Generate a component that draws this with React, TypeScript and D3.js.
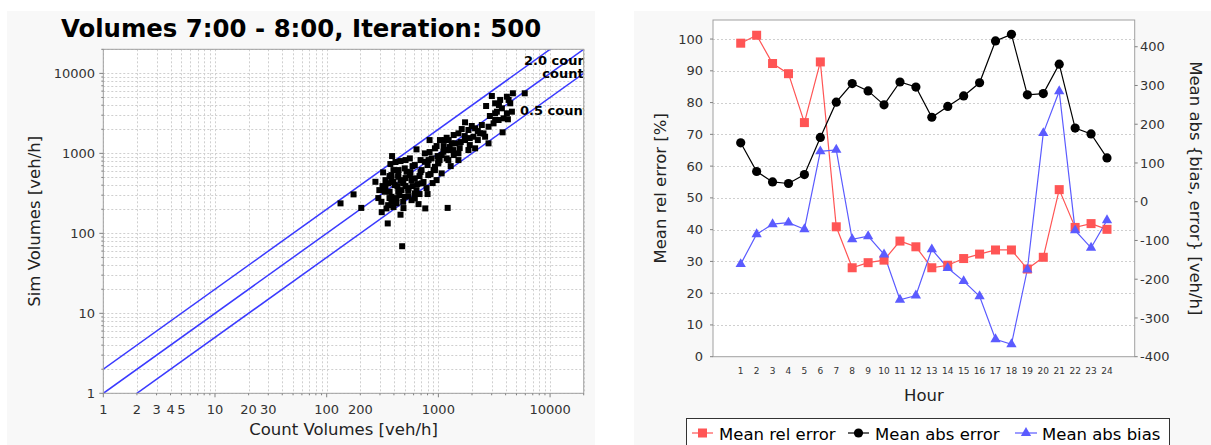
import React from 'react';
import * as d3 from 'd3';

// ---------- Left chart data: [count volume, simulated volume] (veh/h) ----------
const scatterPoints: [number, number][] = [
  [133, 237], [174, 307], [204, 208], [311, 184], [352, 133], [458, 171], [763, 205], [1211, 208],
  [474, 69], [385, 925], [273, 441], [320, 578], [637, 1122], [964, 1234], [1733, 2443], [2675, 3908],
  [3011, 5212], [4645, 5636], [5929, 5636], [3758, 1832], [4190, 2667], [2812, 1334], [1186, 1567], [1033, 1466],
  [1315, 1334], [931, 1156], [1109, 1047], [1362, 1099], [869, 865], [757, 785], [998, 785], [615, 714],
  [500, 649], [707, 618], [555, 535], [437, 509], [380, 535], [484, 441], [615, 487], [812, 535],
  [406, 401], [355, 422], [331, 331], [437, 331], [537, 347], [707, 422], [380, 286], [500, 286],
  [615, 316], [309, 248], [422, 237], [343, 205], [575, 260], [1070, 952], [931, 679], [757, 1000], [555, 865],
  [380, 487], [437, 535], [519, 589], [484, 422], [575, 463], [366, 331], [448, 301], [540, 368],
  [615, 273], [380, 248], [484, 248], [355, 225],
  [1145, 1466], [1512, 1778], [1858, 1959], [2132, 2056], [2448, 2260], [2061, 1614], [1733, 1466], [1409, 1334],
  [1228, 1099], [1512, 1000], [2132, 1156], [1858, 1099], [1512, 824], [1228, 824], [998, 750], [931, 618],
  [1070, 562], [964, 463], [3221, 3170], [4256, 4656], [3458, 2612], [3119, 2373], [2362, 1778],
  [3221, 4226], [3573, 4656], [4106, 5105], [4399, 4226], [3703, 3656], [3339, 3318], [4106, 3170], [4552, 3318],
  [3836, 2742], [3221, 2612], [2812, 2153], [2535, 1778], [2620, 1614],
  [396, 618], [458, 463], [508, 390], [562, 583], [650, 413], [678, 520], [365, 276], [430, 390],
  [587, 390], [800, 714], [851, 551], [1186, 865], [1262, 1199], [1585, 1384], [834, 1038], [692, 824],
  [413, 779], [336, 463], [296, 347], [290, 276], [396, 213], [678, 310], [784, 368], [888, 425],
  [1371, 1694], [1910, 1552], [2254, 1901], [1618, 2014], [1289, 693], [800, 310], [984, 925], [458, 801], [487, 207],
  [336, 390], [365, 520], [396, 438], [440, 618], [468, 347], [508, 491], [540, 292], [587, 693],
  [637, 347], [692, 583], [736, 438], [817, 824], [906, 618], [1026, 824], [1114, 1234], [1236, 1466],
  [1371, 952], [1552, 1164], [1722, 1644], [1910, 1270], [1990, 2198], [2254, 1466], [372, 735], [316, 390],
  [422, 276], [664, 232], [508, 824], [834, 1466], [2891, 2931], [3483, 4027],
];
const ratioFactors = [2, 1, 0.5];
const ratioLabels = ['2.0 count', 'count', '0.5 count'];
const xTickLabels = [1, 2, 3, 4, 5, 10, 20, 30, 100, 200, 1000, 10000];
const yTickLabels = [1, 10, 100, 1000, 10000];
const logMax = 20000;

// ---------- Right chart data ----------
const hours = ['1', '2', '3', '4', '5', '6', '7', '8', '9', '10', '11', '12', '13', '14', '15', '16', '17', '18', '19', '20', '21', '22', '23', '24'];
const meanRelError = [98.7, 101.2, 92.3, 89.1, 73.7, 92.8, 40.9, 28.0, 29.6, 30.4, 36.4, 34.6, 28.0, 28.8, 30.9, 32.3, 33.6, 33.6, 27.6, 31.3, 52.6, 40.7, 41.9, 40.1];
const meanAbsError = [152, 78, 51, 47, 70, 166, 257, 305, 286, 250, 309, 296, 218, 246, 273, 307, 415, 432, 276, 279, 355, 190, 175, 113];
const meanAbsBias = [-161, -84, -58, -54, -71, 130, 134, -97, -89, -136, -253, -242, -123, -171, -205, -244, -355, -368, -175, 177, 285, -74, -119, -48];
const relTicks = [0, 10, 20, 30, 40, 50, 60, 70, 80, 90, 100];
const absTicks = [-400, -300, -200, -100, 0, 100, 200, 300, 400];
const legendLabels = ['Mean rel error', 'Mean abs error', 'Mean abs bias'];

const FONT = '"DejaVu Sans", Verdana, sans-serif';
const RED = '#ff5555';
const BLUE = '#5b5bff';

export default function App() {
  const W = 1211, H = 445;

  // Left chart
  const L = { left: 103.3, right: 583.7, top: 49.3, bottom: 393.3 };
  const xL = d3.scaleLog().domain([1, logMax]).range([L.left, L.right]);
  const yL = d3.scaleLog().domain([1, logMax]).range([L.bottom, L.top]);
  const gridVals: number[] = [];
  for (let k = 0; k <= 4; k++) for (let m = 1; m <= 9; m++) {
    const v = m * Math.pow(10, k);
    if (v <= logMax) gridVals.push(v);
  }
  const isMajor = (v: number) => Math.abs(Math.log10(v) - Math.round(Math.log10(v))) < 1e-9;
  const ratioLine = d3.line<[number, number]>().x(d => xL(d[0])).y(d => yL(d[1]));
  const labelPos = [[524, 65], [542.3, 78], [520, 115]];

  // Right chart
  const R = { left: 713, right: 1134.7, top: 20, bottom: 356.7 };
  const xR = d3.scalePoint<string>().domain(hours).range([R.left, R.right]).padding(1.74);
  const yRel = d3.scaleLinear().domain([0, 106]).range([R.bottom, R.top]);
  const yAbs = d3.scaleLinear().domain([-400, 469]).range([R.bottom, R.top]);
  const lineRel = d3.line<number>().x((_, i) => xR(hours[i])!).y(d => yRel(d));
  const lineAbs = d3.line<number>().x((_, i) => xR(hours[i])!).y(d => yAbs(d));
  const tri = d3.symbol().type(d3.symbolTriangle).size(46)();
  const fmt = (v: number) => (v < 0 ? '-' + Math.abs(v) : String(v));

  const cyR = (R.top + R.bottom) / 2;
  const legY = 433;

  return (
    <svg width={W} height={H} style={{ position: 'absolute', left: 0, top: 0, background: '#fff' }} fontFamily={FONT}>
      <defs>
        <clipPath id="clipL"><rect x={L.left} y={L.top} width={L.right - L.left} height={L.bottom - L.top} /></clipPath>
        <clipPath id="clipR"><rect x={R.left} y={R.top} width={R.right - R.left} height={R.bottom - R.top} /></clipPath>
      </defs>

      {/* ================= LEFT PANEL ================= */}
      <rect x={7} y={11} width={588} height={H} fill="#f8f8f8" />
      <text x={301} y={37} textAnchor="middle" fontSize={24.4} fontWeight="bold" fill="#000">Volumes 7:00 - 8:00, Iteration: 500</text>
      <rect x={L.left} y={L.top} width={L.right - L.left} height={L.bottom - L.top} fill="#fff" />
      {/* gridlines */}
      <g stroke="#cfcfcf" strokeWidth={1} strokeDasharray="2,2">
        {gridVals.map(v => (
          <line key={'gx' + v} x1={Math.round(xL(v)) + 0.5} x2={Math.round(xL(v)) + 0.5} y1={L.top} y2={L.bottom} />
        ))}
        {gridVals.map(v => (
          <line key={'gy' + v} x1={L.left} x2={L.right} y1={Math.round(yL(v)) + 0.5} y2={Math.round(yL(v)) + 0.5} />
        ))}
      </g>
      <g clipPath="url(#clipL)">
        {ratioFactors.map(f => (
          <path key={'rl' + f} d={ratioLine([[1, f], [logMax, f * logMax]]) || ''} stroke="#3a3aff" strokeWidth={1.5} fill="none" />
        ))}
        {scatterPoints.map((p, i) => (
          <rect key={'sp' + i} x={xL(p[0]) - 3} y={yL(p[1]) - 3} width={6} height={6} fill="#000" />
        ))}
        {ratioLabels.map((t, i) => (
          <text key={'lab' + i} x={labelPos[i][0]} y={labelPos[i][1]} fontSize={13} fontWeight="bold" fill="#000">{t}</text>
        ))}
      </g>
      <rect x={L.left} y={L.top} width={L.right - L.left} height={L.bottom - L.top} fill="none" stroke="#a0a0a0" strokeWidth={1} />
      {/* ticks */}
      <g stroke="#808080" strokeWidth={1}>
        {gridVals.map(v => (
          <line key={'ty' + v} x1={L.left - (isMajor(v) ? 4 : 2)} x2={L.left} y1={yL(v)} y2={yL(v)} />
        ))}
        {gridVals.map(v => (
          <line key={'tx' + v} x1={xL(v)} x2={xL(v)} y1={L.bottom} y2={L.bottom + (isMajor(v) ? 4 : 2)} />
        ))}
      </g>
      <g fontSize={13} fill="#333">
        {yTickLabels.map(v => (
          <text key={'yl' + v} x={95} y={yL(v)} dy="0.35em" textAnchor="end">{v}</text>
        ))}
        {xTickLabels.map(v => (
          <text key={'xl' + v} x={xL(v)} y={414} textAnchor="middle">{v}</text>
        ))}
      </g>
      <text x={(L.left + L.right) / 2} y={435} textAnchor="middle" fontSize={16.5} fill="#222">Count Volumes [veh/h]</text>
      <text transform={`translate(40,${(L.top + L.bottom) / 2}) rotate(-90)`} textAnchor="middle" fontSize={16.5} fill="#222">Sim Volumes [veh/h]</text>

      {/* ================= RIGHT PANEL ================= */}
      <rect x={634} y={11} width={W - 634} height={H} fill="#f8f8f8" />
      <rect x={R.left} y={R.top} width={R.right - R.left} height={R.bottom - R.top} fill="#fff" />
      <g stroke="#cfcfcf" strokeWidth={1} strokeDasharray="2,2">
        {relTicks.filter(v => v > 0).map(v => (
          <line key={'rg' + v} x1={R.left} x2={R.right} y1={Math.round(yRel(v)) + 0.5} y2={Math.round(yRel(v)) + 0.5} />
        ))}
      </g>
      <g clipPath="url(#clipR)">
        <path d={lineRel(meanRelError) || ''} fill="none" stroke={RED} strokeWidth={1.2} />
        <path d={lineAbs(meanAbsError) || ''} fill="none" stroke="#000" strokeWidth={1.2} />
        <path d={lineAbs(meanAbsBias) || ''} fill="none" stroke={BLUE} strokeWidth={1.2} />
        {meanRelError.map((v, i) => (
          <rect key={'rs' + i} x={xR(hours[i])! - 4.5} y={yRel(v) - 4.5} width={9} height={9} fill={RED} />
        ))}
        {meanAbsError.map((v, i) => (
          <circle key={'ac' + i} cx={xR(hours[i])!} cy={yAbs(v)} r={4.6} fill="#000" />
        ))}
        {meanAbsBias.map((v, i) => (
          <path key={'bt' + i} d={tri || ''} transform={`translate(${xR(hours[i])},${yAbs(v)})`} fill={BLUE} />
        ))}
      </g>
      <rect x={R.left} y={R.top} width={R.right - R.left} height={R.bottom - R.top} fill="none" stroke="#a0a0a0" strokeWidth={1} />
      <g stroke="#808080" strokeWidth={1}>
        {relTicks.map(v => (
          <line key={'rtk' + v} x1={R.left - 3} x2={R.left} y1={yRel(v)} y2={yRel(v)} />
        ))}
        {absTicks.map(v => (
          <line key={'atk' + v} x1={R.right} x2={R.right + 3} y1={yAbs(v)} y2={yAbs(v)} />
        ))}
      </g>
      <g fontSize={13} fill="#333">
        {relTicks.map(v => (
          <text key={'rtl' + v} x={703} y={yRel(v)} dy="0.35em" textAnchor="end">{v}</text>
        ))}
        {absTicks.map(v => (
          <text key={'atl' + v} x={1140} y={yAbs(v)} dy="0.35em" textAnchor="start">{fmt(v)}</text>
        ))}
      </g>
      <g fontSize={9} fill="#333">
        {hours.map(h => (
          <text key={'h' + h} x={xR(h)!} y={374} textAnchor="middle">{h}</text>
        ))}
      </g>
      <text x={(R.left + R.right) / 2} y={401} textAnchor="middle" fontSize={16.5} fill="#222">Hour</text>
      <text transform={`translate(666,${cyR}) rotate(-90)`} textAnchor="middle" fontSize={16.5} fill="#222">Mean rel error [%]</text>
      <text transform={`translate(1190,${cyR}) rotate(90)`} textAnchor="middle" fontSize={16.5} fill="#222">Mean abs {'{'}bias, error{'}'} [veh/h]</text>

      {/* legend */}
      <rect x={686.5} y={418.5} width={483} height={40} fill="#fff" stroke="#333" strokeWidth={1} />
      <line x1={692} x2={713} y1={legY} y2={legY} stroke={RED} strokeWidth={1.2} />
      <rect x={698} y={legY - 4.5} width={9} height={9} fill={RED} />
      <text x={719} y={440} fontSize={16.5} fill="#000">{legendLabels[0]}</text>
      <line x1={848} x2={869} y1={legY} y2={legY} stroke="#000" strokeWidth={1.2} />
      <circle cx={858.5} cy={legY} r={4.6} fill="#000" />
      <text x={875} y={440} fontSize={16.5} fill="#000">{legendLabels[1]}</text>
      <line x1={1015} x2={1037} y1={legY} y2={legY} stroke={BLUE} strokeWidth={1.2} />
      <path d={tri || ''} transform={`translate(1026,${legY})`} fill={BLUE} />
      <text x={1042} y={440} fontSize={16.5} fill="#000">{legendLabels[2]}</text>
    </svg>
  );
}
